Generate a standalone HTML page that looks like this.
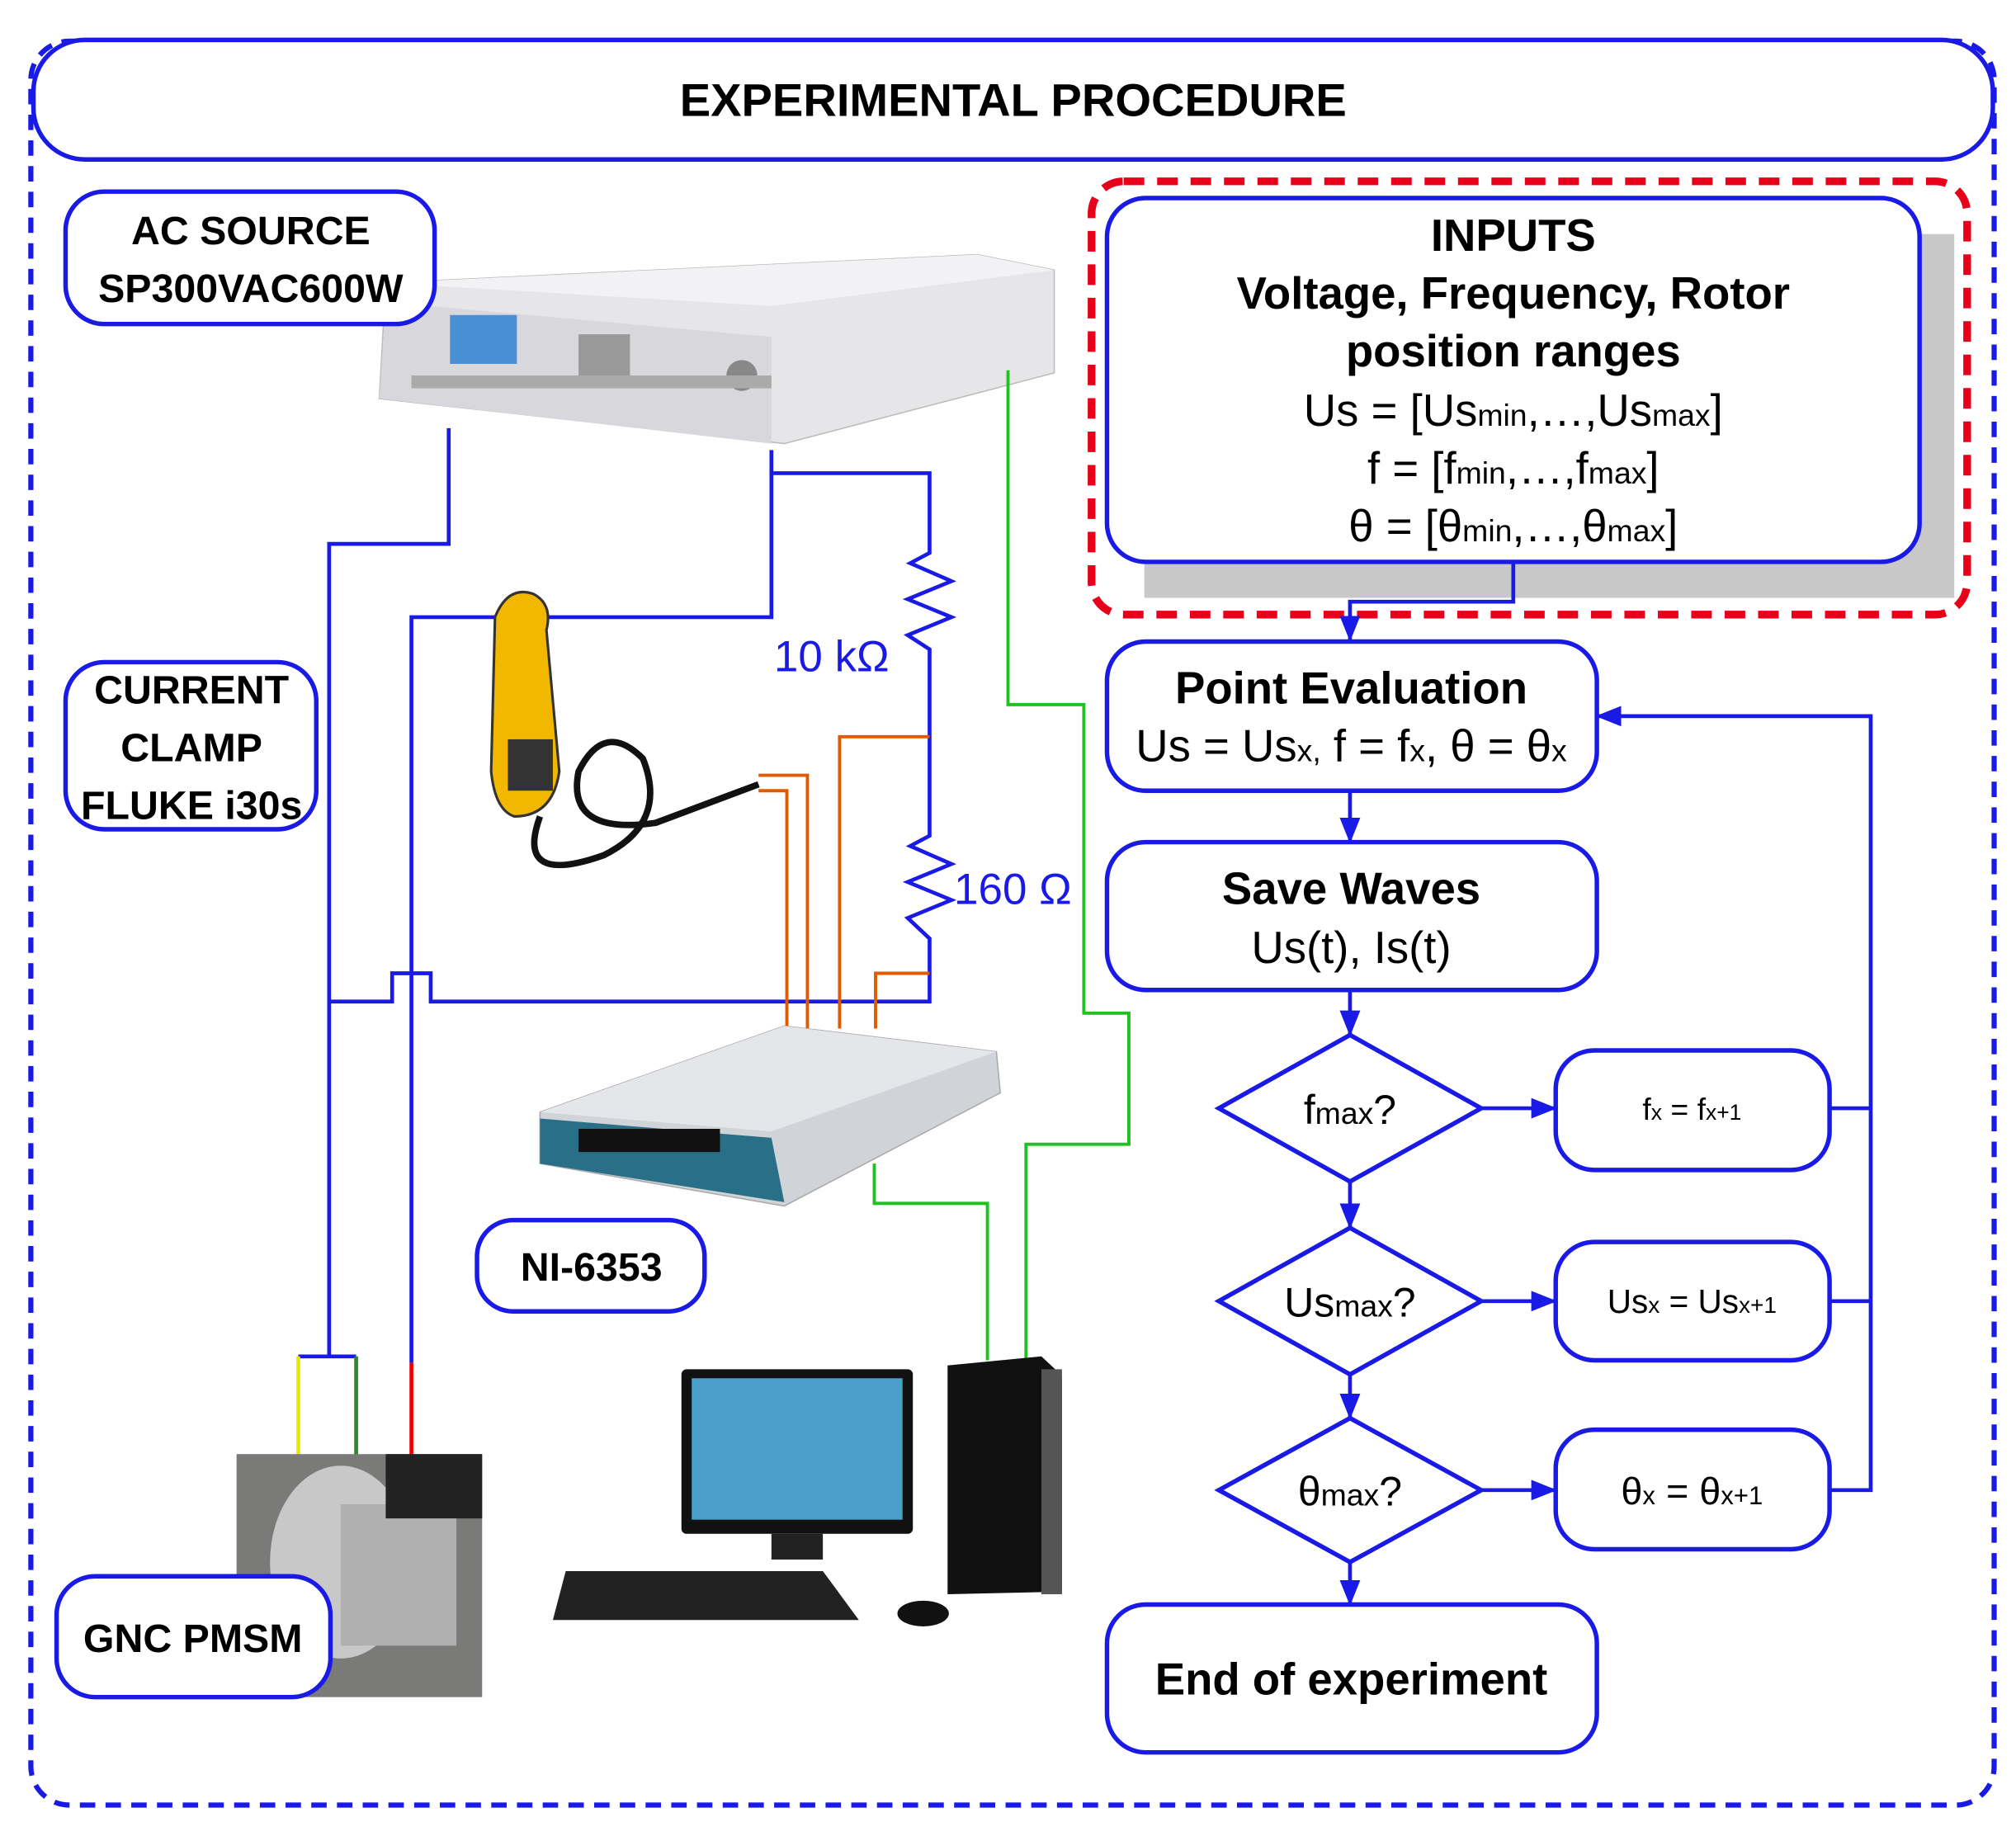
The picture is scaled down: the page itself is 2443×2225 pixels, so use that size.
<!DOCTYPE html>
<html><head><meta charset="utf-8"><style>
html,body{margin:0;padding:0;background:#fff;}
svg{display:block;}
text{font-family:"Liberation Sans",sans-serif;}
</style></head><body>
<svg width="2443" height="2225" viewBox="0 0 1568 1428" xmlns="http://www.w3.org/2000/svg">
<defs>
<marker id="ar" markerWidth="10" markerHeight="10" refX="9" refY="5" orient="auto" markerUnits="userSpaceOnUse" viewBox="0 0 10 10">
<path d="M0,0 L10,5 L0,10 z" fill="#1a1ae6" transform="scale(1)"/></marker>
<marker id="ab" markerWidth="20" markerHeight="20" refX="19" refY="10" orient="auto" markerUnits="userSpaceOnUse" viewBox="0 0 20 20">
<path d="M0,2 L20,10 L0,18 z" fill="#1a1ae6"/></marker>
</defs>
<rect x="0" y="0" width="1568" height="1428" fill="#fff"/>
<!-- outer dashed -->
<rect x="24" y="32" width="1527" height="1372" rx="30" fill="none" stroke="#1a1ae6" stroke-width="4" stroke-dasharray="12,8"/>
<!-- title -->
<rect x="26" y="31" width="1524" height="93" rx="40" fill="#fff" stroke="#1a1ae6" stroke-width="3.5"/>
<text x="788" y="90" text-anchor="middle" font-size="36" font-weight="bold">EXPERIMENTAL PROCEDURE</text>

<!-- AC source device -->
<polygon points="300,220 760,198 820,210 820,290 610,345 295,310" fill="#e6e6e8" stroke="#bbb"/>
<polygon points="300,220 760,198 820,210 600,238" fill="#f2f2f4"/>
<polygon points="300,235 600,262 600,345 295,310" fill="#d8d8dc"/>
<rect x="350" y="245" width="52" height="38" fill="#4a8fd6"/>
<rect x="450" y="260" width="40" height="35" fill="#999"/>
<circle cx="577" cy="292" r="12" fill="#888"/>
<rect x="320" y="292" width="280" height="10" fill="#aaa"/>

<!-- AC label -->
<rect x="51" y="149" width="287" height="103" rx="30" fill="#fff" stroke="#1a1ae6" stroke-width="3.5"/>
<text x="195" y="190" text-anchor="middle" font-size="31" font-weight="bold">AC SOURCE</text>
<text x="195" y="235" text-anchor="middle" font-size="31" font-weight="bold">SP300VAC600W</text>

<!-- wires blue -->
<g fill="none" stroke="#1a1ae6" stroke-width="3">
<polyline points="349,333 349,423 256,423 256,1055"/>
<polyline points="232,1055 277,1055"/>
<polyline points="600,350 600,368 723,368 723,430 708,438 740,452 706,466 740,480 706,494 723,505 723,650 708,658 740,672 706,686 740,700 706,714 723,730 723,779 335,779 335,757 305,757 305,779 256,779"/>
<polyline points="600,368 600,480 320,480 320,1060"/>
</g>
<line x1="232" y1="1055" x2="232" y2="1132" stroke="#e8e800" stroke-width="3"/>
<line x1="277" y1="1055" x2="277" y2="1132" stroke="#2a8a2a" stroke-width="3"/>
<line x1="320" y1="1060" x2="320" y2="1132" stroke="#e00" stroke-width="3"/>
<!-- green -->
<g fill="none" stroke="#22c022" stroke-width="2.5">
<polyline points="784,288 784,548 843,548 843,788 878,788 878,890 798,890 798,1058"/>
<polyline points="680,905 680,936 768,936 768,1058"/>
</g>
<!-- orange -->
<g fill="none" stroke="#e05a00" stroke-width="2.5">
<polyline points="590,603 628,603 628,800"/>
<polyline points="590,615 612,615 612,800"/>
<polyline points="653,800 653,573 723,573"/>
<polyline points="681,800 681,757 723,757"/>
</g>
<text x="602" y="522" font-size="34" fill="#1a1ae6">10 kΩ</text>
<text x="742" y="703" font-size="34" fill="#1a1ae6">160 Ω</text>

<!-- clamp -->
<path d="M385,480 Q395,455 415,462 Q430,470 425,490 L435,600 Q430,635 400,635 Q385,630 382,600 Z" fill="#f2b800" stroke="#333" stroke-width="2"/>
<rect x="395" y="575" width="35" height="40" fill="#333"/>
<path d="M420,635 Q400,690 470,665 Q520,640 500,590 Q470,560 450,600 Q440,650 510,640 L590,610" fill="none" stroke="#111" stroke-width="5"/>

<!-- clamp label -->
<rect x="51" y="515" width="195" height="130" rx="30" fill="#fff" stroke="#1a1ae6" stroke-width="3.5"/>
<text x="149" y="547" text-anchor="middle" font-size="31" font-weight="bold">CURRENT</text>
<text x="149" y="592" text-anchor="middle" font-size="31" font-weight="bold">CLAMP</text>
<text x="149" y="637" text-anchor="middle" font-size="31" font-weight="bold">FLUKE i30s</text>

<!-- NI device -->
<polygon points="420,865 610,798 775,818 778,850 610,938 420,905" fill="#d0d4d8" stroke="#aaa"/>
<polygon points="420,865 610,798 775,818 600,880" fill="#e4e6ea"/>
<polygon points="420,870 600,885 610,935 420,905" fill="#2a6f88"/>
<rect x="450" y="878" width="110" height="18" fill="#111"/>
<rect x="371" y="949" width="177" height="71" rx="28" fill="#fff" stroke="#1a1ae6" stroke-width="3.5"/>
<text x="460" y="996" text-anchor="middle" font-size="31" font-weight="bold">NI-6353</text>

<!-- computer -->
<rect x="530" y="1065" width="180" height="128" rx="4" fill="#111"/>
<rect x="538" y="1072" width="164" height="110" fill="#4aa0c8"/>
<rect x="600" y="1193" width="40" height="20" fill="#222"/>
<polygon points="440,1222 640,1222 668,1260 430,1260" fill="#222"/>
<ellipse cx="718" cy="1255" rx="20" ry="10" fill="#111"/>
<polygon points="737,1062 810,1055 826,1070 826,1238 737,1240" fill="#111"/>
<rect x="810" y="1065" width="16" height="175" fill="#555"/>

<!-- motor -->
<rect x="184" y="1131" width="191" height="189" fill="#7a7a78"/>
<ellipse cx="265" cy="1215" rx="55" ry="75" fill="#c8c8c8"/>
<rect x="265" y="1170" width="90" height="110" fill="#b0b0b0"/>
<rect x="300" y="1131" width="75" height="50" fill="#222"/>
<rect x="44" y="1226" width="213" height="94" rx="30" fill="#fff" stroke="#1a1ae6" stroke-width="3.5"/>
<text x="150" y="1285" text-anchor="middle" font-size="31" font-weight="bold">GNC PMSM</text>

<!-- inputs -->
<rect x="890" y="182" width="630" height="283" fill="#c8c8c8"/>
<rect x="849" y="141" width="681" height="337" rx="25" fill="none" stroke="#e8001a" stroke-width="6" stroke-dasharray="16,10"/>
<rect x="861" y="154" width="632" height="283" rx="30" fill="#fff" stroke="#1a1ae6" stroke-width="3.5"/>
<g font-size="35" text-anchor="middle">
<text x="1177" y="195" font-weight="bold">INPUTS</text>
<text x="1177" y="240" font-weight="bold">Voltage, Frequency, Rotor</text>
<text x="1177" y="285" font-weight="bold">position ranges</text>
<text x="1177" y="331">Us = [Us<tspan font-size="24">min</tspan>,…,Us<tspan font-size="24">max</tspan>]</text>
<text x="1177" y="376">f = [f<tspan font-size="24">min</tspan>,…,f<tspan font-size="24">max</tspan>]</text>
<text x="1177" y="421">θ = [θ<tspan font-size="24">min</tspan>,…,θ<tspan font-size="24">max</tspan>]</text>
</g>
<g fill="none" stroke="#1a1ae6" stroke-width="3">
<polyline points="1177,437 1177,468 1050,468 1050,498" marker-end="url(#ab)"/>
<line x1="1050" y1="615" x2="1050" y2="655" marker-end="url(#ab)"/>
<line x1="1050" y1="770" x2="1050" y2="805" marker-end="url(#ab)"/>
<line x1="1050" y1="919" x2="1050" y2="955" marker-end="url(#ab)"/>
<line x1="1050" y1="1069" x2="1050" y2="1103" marker-end="url(#ab)"/>
<line x1="1050" y1="1215" x2="1050" y2="1248" marker-end="url(#ab)"/>
<line x1="1152" y1="862" x2="1210" y2="862" marker-end="url(#ab)"/>
<line x1="1152" y1="1012" x2="1210" y2="1012" marker-end="url(#ab)"/>
<line x1="1152" y1="1159" x2="1210" y2="1159" marker-end="url(#ab)"/>
<polyline points="1423,862 1455,862"/>
<polyline points="1423,1012 1455,1012"/>
<polyline points="1423,1159 1455,1159 1455,557 1242,557" marker-end="url(#ab)"/>
</g>
<g fill="#fff" stroke="#1a1ae6" stroke-width="3.5">
<rect x="861" y="499" width="381" height="116" rx="30"/>
<rect x="861" y="655" width="381" height="115" rx="30"/>
<rect x="861" y="1248" width="381" height="115" rx="30"/>
<rect x="1210" y="817" width="213" height="93" rx="30"/>
<rect x="1210" y="966" width="213" height="92" rx="30"/>
<rect x="1210" y="1112" width="213" height="93" rx="30"/>
<polygon points="1050,805 1152,862 1050,919 948,862"/>
<polygon points="1050,955 1152,1012 1050,1069 948,1012"/>
<polygon points="1050,1103 1152,1159 1050,1215 948,1159"/>
</g>
<g font-size="35" text-anchor="middle">
<text x="1051" y="547" font-weight="bold">Point Evaluation</text>
<text x="1051" y="592">Us = Us<tspan font-size="24">x,</tspan> f = f<tspan font-size="24">x</tspan>, θ = θ<tspan font-size="24">x</tspan></text>
<text x="1051" y="703" font-weight="bold">Save Waves</text>
<text x="1051" y="749">Us(t), Is(t)</text>
<text x="1051" y="1318" font-weight="bold">End of experiment</text>
<text x="1050" y="874" font-size="32">f<tspan font-size="24">max</tspan>?</text>
<text x="1050" y="1024" font-size="32">Us<tspan font-size="24">max</tspan>?</text>
<text x="1050" y="1171" font-size="32">θ<tspan font-size="24">max</tspan>?</text>
<text x="1316" y="871" font-size="24">f<tspan font-size="17">x</tspan> = f<tspan font-size="17">x+1</tspan></text>
<text x="1316" y="1021" font-size="26">Us<tspan font-size="18">x</tspan> = Us<tspan font-size="18">x+1</tspan></text>
<text x="1316" y="1170" font-size="30">θ<tspan font-size="20">x</tspan> = θ<tspan font-size="20">x+1</tspan></text>
</g>
</svg>
</body></html>
